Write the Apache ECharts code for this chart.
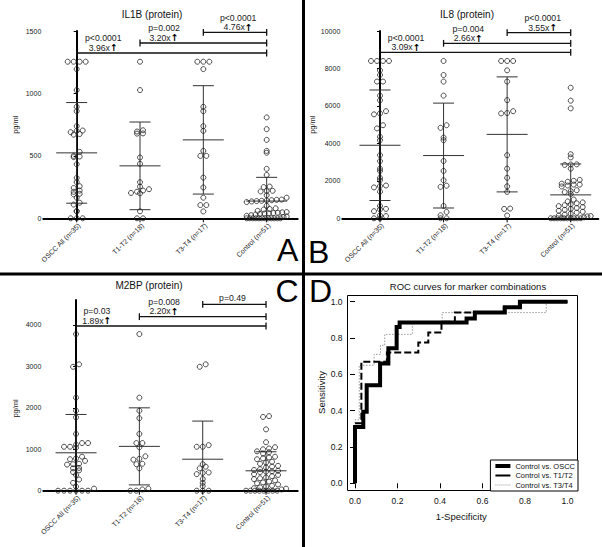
<!DOCTYPE html>
<html><head><meta charset="utf-8">
<script src="https://cdn.jsdelivr.net/npm/echarts@6/dist/echarts.min.js"></script>
<style>html,body{margin:0;padding:0;background:#fff}#c{width:602px;height:547px}</style>
</head><body><div id="c"></div>
<script>
// ---------- data ----------
const categories = ['OSCC All (n=35)', 'T1-T2 (n=18)', 'T3-T4 (n=17)', 'Control (n=51)'];

// IL1B (protein), pg/ml
const il1bOSCC = [1254,1254,1254,1254,1195,1027,893,858,738,703,700,690,675,670,532,500,495,490,433,323,290,257,243,222,212,196,192,165,125,110,58,55,0,0,0];
const il1bT12  = [1254,1027,705,695,680,678,487,436,289,254,233,222,213,203,200,56,0,0];
const il1bT34  = [1254,1254,1254,1195,893,858,738,700,540,500,500,326,247,165,106,106,55];
const il1bCtrl = [808,714,628,540,525,396,347,254,250,220,218,215,185,165,150,148,145,143,140,138,135,130,100,80,75,70,60,50,48,45,42,40,38,35,30,25,20,15,10,0,0,0,0,0,0,0,0,0,0,0,0];
const il1bMean = [524, 420, 628, 138];
const il1bSD   = [403, 351, 434, 190];
const il1bBracket = [1324, 1404, 1489];
const il1bP    = ['p<0.0001', 'p=0.002', 'p<0.0001'];
const il1bFold = ['3.96x', '3.20x', '4.76x'];
const il1bTicks = [0, 500, 1000, 1500];

// IL8 (protein), pg/ml
const il8OSCC = [8400,8400,8400,8400,7900,7650,7300,7300,6550,6300,5720,5600,5550,4970,4800,4350,4170,3370,3050,2650,2530,2160,2030,1750,1720,1650,1420,660,500,480,380,150,120,0,0];
const il8T12  = [8400,7650,7300,6550,4970,4830,4310,4170,3060,2530,2030,1740,1680,660,340,160,0,0];
const il8T34  = [8400,8400,8400,7900,7300,6310,5720,5620,5600,3370,2650,2160,1710,1410,520,500,150];
const il8Ctrl = [6970,6280,5870,3420,3250,2880,2870,2850,2650,2050,2000,1950,1850,1800,1800,1750,1700,1500,1450,1400,1300,1000,900,850,800,750,700,650,600,550,500,450,400,350,300,250,200,150,120,100,50,0,0,0,0,0,0,0,0,0,0];
const il8Mean = [3900, 3350, 4480, 1250];
const il8SD   = [2950, 2800, 3070, 1650];
const il8Bracket = [8863, 9343, 9909];
const il8P    = ['p<0.0001', 'p=0.004', 'p<0.0001'];
const il8Fold = ['3.09x', '2.66x', '3.55x'];
const il8Ticks = [0, 2000, 4000, 6000, 8000, 10000];

// M2BP (protein), pg/ml
const m2bpOSCC = [3780,3050,2990,2245,1930,1770,1370,1150,1150,1110,1060,1060,1040,820,780,760,720,650,640,630,550,540,490,450,380,270,190,100,50,0,0,0,0,0,0];
const m2bpT12  = [3780,2245,1930,1750,1370,1150,1150,1050,830,770,750,650,640,540,50,30,0,0];
const m2bpT34  = [3050,2990,1100,1060,1060,640,580,540,440,430,400,280,190,110,0,0,0];
const m2bpCtrl = [1800,1780,1480,1170,1050,1020,1000,950,930,900,820,800,780,760,700,680,650,600,580,560,520,500,480,470,460,450,400,380,350,320,300,280,250,220,200,180,150,120,100,80,60,50,30,0,0,0,0,0,0,0,0];
const m2bpMean = [915, 1070, 760, 480];
const m2bpSD   = [925, 930, 920, 460];
const m2bpBracket = [3975, 4200, 4499];
const m2bpP    = ['p=0.03', 'p=0.008', 'p=0.49'];
const m2bpFold = ['1.89x', '2.20x', ''];
const m2bpTicks = [0, 1000, 2000, 3000, 4000];

// ROC curves (1-specificity, sensitivity)
const rocOSCC = [[0,0],[0,0.31],[0.039,0.31],[0.039,0.394],[0.055,0.394],[0.055,0.54],[0.118,0.54],[0.118,0.66],[0.157,0.66],[0.157,0.743],[0.196,0.743],[0.196,0.86],[0.21,0.86],[0.21,0.886],[0.525,0.886],[0.525,0.908],[0.564,0.908],[0.564,0.941],[0.705,0.941],[0.705,0.97],[0.776,0.97],[0.776,1],[1,1]];
const rocT12  = [[0,0],[0,0.33],[0.03,0.33],[0.03,0.67],[0.15,0.67],[0.15,0.72],[0.298,0.72],[0.298,0.776],[0.345,0.776],[0.345,0.83],[0.407,0.83],[0.407,0.89],[0.47,0.89],[0.47,0.94],[0.70,0.94],[0.70,0.97],[0.78,0.97],[0.78,1],[1,1]];
const rocT34  = [[0,0],[0,0.35],[0.02,0.35],[0.02,0.65],[0.09,0.65],[0.09,0.71],[0.12,0.71],[0.12,0.76],[0.14,0.76],[0.14,0.82],[0.27,0.82],[0.27,0.88],[0.41,0.88],[0.41,0.94],[0.90,0.94],[0.90,1],[1,1]];
const rocNames = ['Control vs. OSCC', 'Control vs. T1/T2', 'Control vs. T3/T4'];
const rocTicks = [0, 0.2, 0.4, 0.6, 0.8, 1.0];

// ---------- layout ----------
const FONT = '"Liberation Sans", Arial, sans-serif';
const panels = [
  { groups:[il1bOSCC, il1bT12, il1bT34, il1bCtrl], mean:il1bMean, sd:il1bSD, br:il1bBracket, p:il1bP, fold:il1bFold, ticks:il1bTicks,
    grid:{left:43.3, top:31, width:254.4, height:187.3}, xMin:-0.527, xMax:3.49, yMax:1500, textOff:[0.42, 0.38, 0.55], namePad:[0,0,0,0] },
  { groups:[il8OSCC, il8T12, il8T34, il8Ctrl], mean:il8Mean, sd:il8SD, br:il8Bracket, p:il8P, fold:il8Fold, ticks:il8Ticks,
    grid:{left:342.3, top:31, width:256, height:187.3}, xMin:-0.593, xMax:3.434, yMax:10000, textOff:[0.41, 0.39, 0.56], namePad:[0,0,0,0] },
  { groups:[m2bpOSCC, m2bpT12, m2bpT34, m2bpCtrl], mean:m2bpMean, sd:m2bpSD, br:m2bpBracket, p:m2bpP, fold:m2bpFold, ticks:m2bpTicks,
    grid:{left:43.3, top:300.1, width:254.4, height:190.6}, xMin:-0.517, xMax:3.5, yMax:4600, textOff:[0.33, 0.39, 0.47], namePad:[0,26,0,0] }
];

// Prism-style row layout of points (offset in px computed from the values)
function swarmOffsets(vals, pxPerUnit) {
  const BIN = 4.6, STEP = 6, MAXW = 40;
  const bins = {};
  vals.forEach((v, i) => { const b = Math.round(v * pxPerUnit / BIN); (bins[b] = bins[b] || []).push(i); });
  const off = [];
  Object.keys(bins).forEach(k => {
    const idx = bins[k].slice().sort((a, b) => vals[a] - vals[b]);
    const n = idx.length;
    const s = n > 1 ? Math.min(STEP, MAXW / (n - 1)) : 0;
    idx.forEach((i, j) => { off[i] = (j - (n - 1) / 2) * s; });
  });
  return off;
}

const grids = [], xAxes = [], yAxes = [], series = [];

panels.forEach((P, k) => {
  grids.push(Object.assign({}, P.grid));
  xAxes.push({
    gridIndex:k, type:'value', min:P.xMin, max:P.xMax,
    axisLine:{show:true, onZero:false, lineStyle:{color:'#000', width:2}},
    axisTick:{show:false}, axisLabel:{show:false}, splitLine:{show:false}
  });
  yAxes.push({
    gridIndex:k, type:'value', min:0, max:P.yMax,
    axisLine:{show:true, lineStyle:{color:'#000', width:2}},
    axisTick:{show:true, customValues:P.ticks, length:3, lineStyle:{color:'#000', width:1}},
    axisLabel:{customValues:P.ticks, formatter:v => String(v), fontSize:7, margin:2, color:'#222', fontFamily:FONT},
    splitLine:{show:false},
    name:'pg/ml', nameLocation:'middle', nameGap:24,
    nameTextStyle:{fontSize:7.5, color:'#222', fontFamily:FONT, padding:P.namePad}
  });
  const ppu = P.grid.height / P.yMax;
  const pts = [];
  P.groups.forEach((vals, gi) => {
    const off = swarmOffsets(vals, ppu);
    vals.forEach((v, i) => pts.push({value:[gi, v], symbolOffset:[off[i], 0]}));
  });
  // category ticks + rotated labels
  series.push({
    type:'custom', xAxisIndex:k, yAxisIndex:k, silent:true, z:5, clip:false,
    data:categories.map((c, i) => [i, 0]),
    renderItem:(params, api) => {
      const i = api.value(0);
      const p = api.coord([i, 0]);
      return {type:'group', children:[
        {type:'line', shape:{x1:p[0], y1:p[1], x2:p[0], y2:p[1] + 4}, style:{stroke:'#000', lineWidth:1}},
        {type:'text', x:p[0] + 2.5, y:p[1] + 6, rotation:Math.PI / 4,
          style:{text:categories[i], fill:'#222', fontSize:7, fontFamily:FONT, align:'right', verticalAlign:'middle'}}
      ]};
    }
  });
  // mean +/- SD
  series.push({
    type:'custom', xAxisIndex:k, yAxisIndex:k, silent:true, z:2,
    data:P.mean.map((m, i) => [i, m, P.sd[i]]),
    renderItem:(params, api) => {
      const i = api.value(0), m = api.value(1), s = api.value(2);
      const c = api.coord([i, m]);
      const top = api.coord([i, m + s]);
      const lowV = m - s;
      const bot = api.coord([i, Math.max(0, lowV)]);
      const st = {stroke:'#333', lineWidth:1};
      const ch = [
        {type:'line', shape:{x1:c[0]-20.5, y1:c[1], x2:c[0]+20.5, y2:c[1]}, style:st},
        {type:'line', shape:{x1:c[0], y1:top[1], x2:c[0], y2:bot[1]}, style:st},
        {type:'line', shape:{x1:c[0]-10.5, y1:top[1], x2:c[0]+10.5, y2:top[1]}, style:st}
      ];
      if (lowV > 0) ch.push({type:'line', shape:{x1:c[0]-10.5, y1:bot[1], x2:c[0]+10.5, y2:bot[1]}, style:st});
      return {type:'group', children:ch};
    }
  });
  series.push({
    type:'scatter', xAxisIndex:k, yAxisIndex:k, silent:true, clip:false, z:3,
    symbol:'circle', symbolSize:5,
    itemStyle:{color:'rgba(255,255,255,0)', borderColor:'#222', borderWidth:1},
    data:pts
  });
  // significance brackets
  series.push({
    type:'custom', xAxisIndex:k, yAxisIndex:k, silent:true, z:4, clip:false,
    data:P.br.map((y, i) => [i, 3, y]),
    renderItem:(params, api) => {
      const f = api.value(0), t = api.value(1), y = api.value(2), j = params.dataIndex;
      const a = api.coord([f, y]), b = api.coord([t, y]);
      const st = {stroke:'#111', lineWidth:1.3};
      const tp = api.coord([f + P.textOff[j], y]);
      const fold = P.fold[j];
      const ch = [
        {type:'line', shape:{x1:a[0], y1:a[1], x2:b[0], y2:b[1]}, style:st},
        {type:'line', shape:{x1:a[0], y1:a[1]-3.4, x2:a[0], y2:a[1]+3.4}, style:st},
        {type:'line', shape:{x1:b[0], y1:b[1]-3.4, x2:b[0], y2:b[1]+3.4}, style:st},
        {type:'text', x:tp[0], y:tp[1] - (fold ? 14.5 : 6),
          style:{text:P.p[j], fill:'#222', fontSize:8.7, fontFamily:FONT, align:'center', verticalAlign:'middle'}}
      ];
      if (fold) ch.push({type:'text', x:tp[0], y:tp[1] - 5.2,
        style:{text:fold + '{a|↑}', fill:'#222', fontSize:8.7, fontFamily:FONT, align:'center', verticalAlign:'middle',
          rich:{a:{fontSize:9.5, fontWeight:'bold', fill:'#000', fontFamily:'"DejaVu Sans", sans-serif'}}}});
      return {type:'group', children:ch};
    }
  });
});

// ROC panel: data grid (3) and frame grid (4)
grids.push({left:355, top:301.7, width:212.5, height:181.6});
grids.push({left:347.5, top:295.5, width:230, height:195, show:true, borderColor:'#000', borderWidth:1, backgroundColor:'rgba(0,0,0,0)'});
xAxes.push({
  gridIndex:3, type:'value', min:0, max:1, offset:7,
  axisLine:{show:false}, splitLine:{show:false},
  axisTick:{show:true, customValues:rocTicks, length:5, lineStyle:{color:'#000'}},
  axisLabel:{customValues:rocTicks, formatter:v => v.toFixed(1), fontSize:8.5, margin:6, color:'#111', fontFamily:FONT},
  name:'1-Specificity', nameLocation:'middle', nameGap:21, nameTextStyle:{fontSize:9.5, color:'#111', fontFamily:FONT}
});
yAxes.push({
  gridIndex:3, type:'value', min:0, max:1, offset:7.5,
  axisLine:{show:false}, splitLine:{show:false},
  axisTick:{show:true, customValues:rocTicks, length:5, lineStyle:{color:'#000'}},
  axisLabel:{customValues:rocTicks, formatter:v => v.toFixed(1), fontSize:8.5, margin:5, color:'#111', fontFamily:FONT},
  name:'Sensitivity', nameLocation:'middle', nameGap:21, nameTextStyle:{fontSize:9.5, color:'#111', fontFamily:FONT}
});
xAxes.push({gridIndex:4, type:'value', show:false, min:0, max:1});
yAxes.push({gridIndex:4, type:'value', show:false, min:0, max:1});

const rocStyles = [
  {color:'#000', width:4, type:'solid'},
  {color:'#000', width:2, type:[7, 3]},
  {color:'#999', width:1, type:[1.5, 1.5]}
];
const rocZ = [6, 5, 4];
[rocOSCC, rocT12, rocT34].forEach((d, i) => {
  series.push({
    type:'line', name:rocNames[i], xAxisIndex:3, yAxisIndex:3, data:d, symbol:'none', showSymbol:false,
    silent:true, z:rocZ[i], clip:false, color:rocStyles[i].color,
    itemStyle:{color:rocStyles[i].color},
    lineStyle:Object.assign({join:'miter', cap:'butt'}, rocStyles[i])
  });
});

const titleStyle = (s) => ({fontSize:s, fontWeight:'normal', color:'#111', fontFamily:FONT});
const letterStyle = {fontSize:32, fontWeight:'normal', color:'#000', fontFamily:FONT};
const titles = [
  {text:'IL1B (protein)', left:152, top:9, textAlign:'center', padding:0, textStyle:titleStyle(10)},
  {text:'IL8 (protein)', left:467, top:9, textAlign:'center', padding:0, textStyle:titleStyle(10)},
  {text:'M2BP (protein)', left:149, top:280, textAlign:'center', padding:0, textStyle:titleStyle(10)},
  {text:'ROC curves for marker combinations', left:468, top:281, textAlign:'center', padding:0, textStyle:titleStyle(9.5)},
  {text:'A', left:277, top:234, padding:0, textStyle:letterStyle},
  {text:'B', left:308, top:236, padding:0, textStyle:letterStyle},
  {text:'C', left:275.5, top:275, padding:0, textStyle:letterStyle},
  {text:'D', left:309, top:275, padding:0, textStyle:letterStyle}
];

const chart = echarts.init(document.getElementById('c'), null, {renderer:'svg', width:602, height:547});
chart.setOption({
  animation:false,
  backgroundColor:'#fff',
  textStyle:{fontFamily:FONT},
  title:titles,
  grid:grids,
  xAxis:xAxes,
  yAxis:yAxes,
  legend:{
    right:24, bottom:56, orient:'vertical', selectedMode:false,
    borderColor:'#000', borderWidth:1, borderRadius:0, padding:[2, 3, 2, 3],
    itemGap:1.5, itemWidth:15, itemHeight:7, backgroundColor:'#fff',
    itemStyle:{opacity:0},
    textStyle:{fontSize:7.5, color:'#111', fontFamily:FONT},
    data:[
      {name:rocNames[0], itemStyle:{opacity:0}, lineStyle:{width:4, color:'#000', type:'solid'}},
      {name:rocNames[1], itemStyle:{opacity:0}, lineStyle:{width:2, color:'#000', type:'solid'}},
      {name:rocNames[2], itemStyle:{opacity:0}, lineStyle:{width:1, color:'#999', type:'dotted'}}
    ]
  },
  graphic:[
    {type:'line', shape:{x1:303.5, y1:0, x2:303.5, y2:547}, style:{stroke:'#000', lineWidth:3}, z:100},
    {type:'line', shape:{x1:0, y1:274, x2:602, y2:274}, style:{stroke:'#000', lineWidth:3}, z:100}
  ],
  series:series
});
</script>
</body></html>
